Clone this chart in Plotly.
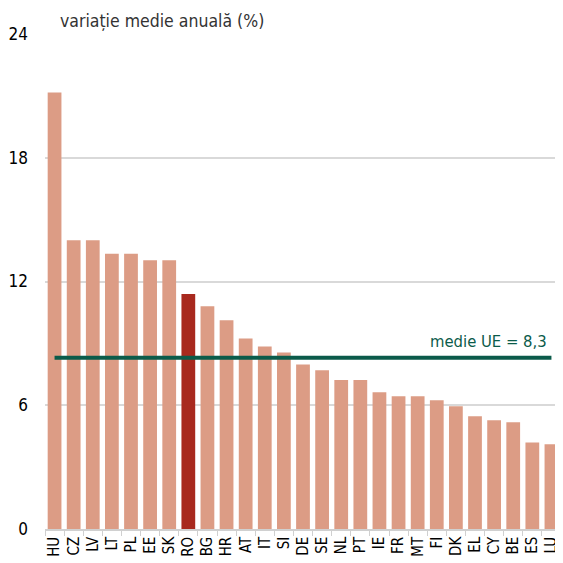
import plotly.graph_objects as go

countries = ["HU", "CZ", "LV", "LT", "PL", "EE", "SK", "RO", "BG", "HR", "AT", "IT", "SI", "DE",
             "SE", "NL", "PT", "IE", "FR", "MT", "FI", "DK", "EL", "CY", "BE", "ES", "LU"]
values = [21.16, 14.0, 14.0, 13.34, 13.34, 13.03, 13.03, 11.39, 10.8, 10.12, 9.24, 8.85, 8.56, 7.98,
          7.7, 7.22, 7.22, 6.63, 6.44, 6.44, 6.24, 5.95, 5.47, 5.27, 5.18, 4.2, 4.11]
highlight = "RO"
eu_avg = 8.3
y_ticks = [0, 6, 12, 18, 24]

FONT = "DejaVu Sans Condensed, Liberation Sans Narrow, sans-serif"
bar_color = "#DC9C85"
hi_color = "#A8291E"
green = "#0B5B4A"

colors = [hi_color if c == highlight else bar_color for c in countries]

fig = go.Figure()
fig.add_trace(go.Bar(x=countries, y=values, marker=dict(color=colors, line=dict(width=0)),
                     width=0.72, showlegend=False, hoverinfo="x+y"))
fig.add_trace(go.Scatter(x=[countries[0], countries[-1]], y=[eu_avg, eu_avg], mode="lines",
                         line=dict(color=green, width=4), showlegend=False))

fig.add_annotation(x=countries[-1], y=eu_avg, xref="x", yref="y", text="medie UE = 8,3",
                   showarrow=False, xanchor="right", yanchor="bottom", xshift=-2, yshift=5,
                   font=dict(family=FONT, size=16.5, color=green))
fig.add_annotation(x=0.025, y=1.027, xref="paper", yref="paper", text="variație medie anuală (%)",
                   showarrow=False, xanchor="left", yanchor="middle",
                   font=dict(family=FONT, size=17.5, color="#333333"))

fig.update_layout(
    width=555, height=555,
    margin=dict(l=37, r=1.5, t=26, b=33.5),
    paper_bgcolor="white", plot_bgcolor="white",
    bargap=0.28,
    font=dict(family=FONT, size=16, color="black"),
)
fig.update_xaxes(type="category", tickangle=-90, tickson="boundaries", ticks="outside", ticklen=5,
                 tickcolor="#d0d0d0", showline=True, linecolor="#d0d0d0", linewidth=1.5,
                 tickfont=dict(family=FONT, size=15, color="black"), showgrid=False,
                 range=[-0.5, len(countries) - 0.5], automargin=False)
fig.update_yaxes(range=[0, 24], tickvals=y_ticks, showgrid=True, gridcolor="#d9d9d9", gridwidth=1.5,
                 zeroline=False, showline=False, ticks="", ticklabelstandoff=16,
                 tickfont=dict(family=FONT, size=17, color="black"), automargin=False)

fig.write_html("out.html")
